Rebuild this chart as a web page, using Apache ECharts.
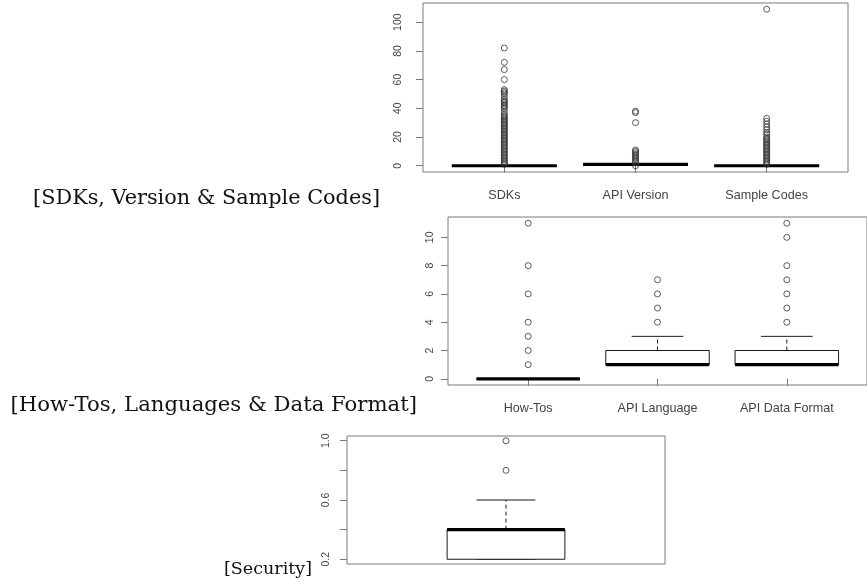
<!DOCTYPE html>
<html><head><meta charset="utf-8">
<script src="https://cdn.jsdelivr.net/npm/echarts@6/dist/echarts.min.js"></script>
<style>html,body{margin:0;padding:0;background:#fff}#c{width:867px;height:586px}</style>
</head><body><div id="c"></div>
<script>
// ---------- Panel 1: SDKs, Version & Sample Codes ----------
const p1Categories = ['SDKs', 'API Version', 'Sample Codes'];
// [min, q1, median, q3, max]
const p1Stats = [
  [0, 0, 0, 0, 0],
  [1, 1, 1, 1, 1],
  [0, 0, 0, 0, 0]
];
const p1Outliers = [
  [1,2,3,4,5,6,7,8,9,10,11,12,13,14,15,16,17,18,19,20,21,22,23,24,25,26,27,28,29,30,31,32,33,34,35,36,38,40,41,42,43,44,45,46,48,50,51,52,53,60,67,72,82],
  [0,2,3,4,5,6,7,8,9,10,11,30,37,38],
  [1,2,3,4,5,6,7,8,9,10,11,12,13,14,15,16,17,18,19,20,22,23,25,27,29,31,33,109]
];
const p1YTicks = [0, 20, 40, 60, 80, 100];

// ---------- Panel 2: How-Tos, Languages & Data Format ----------
const p2Categories = ['How-Tos', 'API Language', 'API Data Format'];
const p2Stats = [
  [0, 0, 0, 0, 0],
  [1, 1, 1, 2, 3],
  [1, 1, 1, 2, 3]
];
const p2Outliers = [
  [1, 2, 3, 4, 6, 8, 11],
  [4, 5, 6, 7],
  [4, 5, 6, 7, 8, 10, 11]
];
const p2YTicks = [0, 2, 4, 6, 8, 10];

// ---------- Panel 3: Security ----------
const p3Stats = [[0.2, 0.2, 0.4, 0.4, 0.6]];
const p3Outliers = [[0.8, 1.0]];
const p3YTicks = [0.2, 0.4, 0.6, 0.8, 1.0];
const p3YLabels = [0.2, 0.6, 1.0];

// ---------- Panel titles ----------
const panelTitles = ['[SDKs, Version & Sample Codes]', '[How-Tos, Languages & Data Format]', '[Security]'];

// ---------- helpers ----------
const FRAME = '#7a7a7a';
const INK = '#1a1a1a';
const LABEL = '#444';

function boxData(stats) {
  return stats.map((s, i) => [i + 1].concat(s));
}
function outlierData(outs) {
  const d = [];
  outs.forEach((arr, i) => arr.forEach(v => d.push([i + 1, v])));
  return d;
}
function boxRender(halfW) {
  return function (params, api) {
    const x = api.value(0);
    const mn = api.value(1), q1 = api.value(2), md = api.value(3), q3 = api.value(4), mx = api.value(5);
    const tl = api.coord([x - halfW, q3]);
    const br = api.coord([x + halfW, q1]);
    const c3 = api.coord([x, q3]), cx = api.coord([x, mx]);
    const c1 = api.coord([x, q1]), cn = api.coord([x, mn]);
    const capL = api.coord([x - halfW / 2, mx]), capR = api.coord([x + halfW / 2, mx]);
    const capL2 = api.coord([x - halfW / 2, mn]), capR2 = api.coord([x + halfW / 2, mn]);
    const mL = api.coord([x - halfW, md]), mR = api.coord([x + halfW, md]);
    const thin = { stroke: INK, lineWidth: 1, fill: null };
    const dash = { stroke: INK, lineWidth: 1, lineDash: [4, 3], fill: null };
    return {
      type: 'group',
      children: [
        { type: 'line', shape: { x1: c3[0], y1: c3[1], x2: cx[0], y2: cx[1] }, style: dash },
        { type: 'line', shape: { x1: c1[0], y1: c1[1], x2: cn[0], y2: cn[1] }, style: dash },
        { type: 'line', shape: { x1: capL[0], y1: capL[1], x2: capR[0], y2: capR[1] }, style: thin },
        { type: 'line', shape: { x1: capL2[0], y1: capL2[1], x2: capR2[0], y2: capR2[1] }, style: thin },
        { type: 'rect', shape: { x: tl[0], y: tl[1], width: br[0] - tl[0], height: br[1] - tl[1] },
          style: { fill: '#fff', stroke: INK, lineWidth: 1 } },
        { type: 'line', shape: { x1: mL[0], y1: mL[1], x2: mR[0], y2: mR[1] },
          style: { stroke: '#000', lineWidth: 3.2, fill: null } }
      ]
    };
  };
}
function yAxis(idx, min, max, ticks, labels, margin, fmt) {
  return {
    type: 'value', gridIndex: idx, min: min, max: max,
    axisLine: { show: false },
    splitLine: { show: false },
    axisTick: { show: true, length: 7, customValues: ticks, lineStyle: { color: FRAME, width: 1 } },
    axisLabel: {
      show: true, customValues: labels, rotate: 90, margin: margin,
      formatter: fmt || (v => String(v)),
      color: LABEL, fontSize: 10.5, fontFamily: 'Liberation Sans'
    }
  };
}
function xAxis(idx, min, max, cats) {
  const ax = {
    type: 'value', gridIndex: idx, min: min, max: max,
    axisLine: { show: false }, splitLine: { show: false },
    axisTick: { show: false }, axisLabel: { show: false }
  };
  if (cats) {
    const vals = cats.map((c, i) => i + 1);
    ax.axisTick = { show: true, length: 7, customValues: vals, lineStyle: { color: FRAME, width: 1 } };
    ax.axisLabel = {
      show: true, customValues: vals, margin: 17,
      formatter: v => cats[Math.round(v) - 1] || '',
      color: LABEL, fontSize: 12.6, fontFamily: 'Liberation Sans'
    };
  }
  return ax;
}
const scatterStyle = {
  symbol: 'circle', symbolSize: 6,
  itemStyle: { color: 'rgba(0,0,0,0)', borderColor: '#333', borderWidth: 1 }
};
function title(text, xr, yc, size) {
  return {
    type: 'text', x: xr, y: yc,
    style: { text: text, fontFamily: 'DejaVu Serif', fontSize: size, fill: '#111', align: 'right', verticalAlign: 'middle' }
  };
}

const chart = echarts.init(document.getElementById('c'), null, { renderer: 'canvas' });
chart.setOption({
  backgroundColor: '#fff',
  animation: false,
  grid: [
    { left: 423, top: 3, width: 425, height: 169, show: true, borderColor: FRAME, borderWidth: 1, backgroundColor: 'transparent' },
    { left: 448, top: 217, width: 424, height: 168, show: true, borderColor: FRAME, borderWidth: 1, backgroundColor: 'transparent' },
    { left: 347, top: 436, width: 318, height: 128, show: true, borderColor: FRAME, borderWidth: 1, backgroundColor: 'transparent' }
  ],
  xAxis: [
    xAxis(0, 0.38, 3.62, p1Categories),
    xAxis(1, 0.38, 3.62, p2Categories),
    xAxis(2, 0.46, 1.54, null)
  ],
  yAxis: [
    yAxis(0, -4.36, 113.36, p1YTicks, p1YTicks, 19),
    yAxis(1, -0.44, 11.44, p2YTicks, p2YTicks, 12),
    yAxis(2, 0.168, 1.032, p3YTicks, p3YLabels, 15, v => v.toFixed(1))
  ],
  series: [
    { type: 'custom', xAxisIndex: 0, yAxisIndex: 0, renderItem: boxRender(0.4), data: boxData(p1Stats), encode: { x: 0, y: [1, 2, 3, 4, 5] }, z: 2 },
    Object.assign({ type: 'scatter', xAxisIndex: 0, yAxisIndex: 0, data: outlierData(p1Outliers), z: 3 }, scatterStyle),
    { type: 'custom', xAxisIndex: 1, yAxisIndex: 1, renderItem: boxRender(0.4), data: boxData(p2Stats), encode: { x: 0, y: [1, 2, 3, 4, 5] }, z: 2 },
    Object.assign({ type: 'scatter', xAxisIndex: 1, yAxisIndex: 1, data: outlierData(p2Outliers), z: 3 }, scatterStyle),
    { type: 'custom', xAxisIndex: 2, yAxisIndex: 2, renderItem: boxRender(0.2), data: boxData(p3Stats), encode: { x: 0, y: [1, 2, 3, 4, 5] }, z: 2 },
    Object.assign({ type: 'scatter', xAxisIndex: 2, yAxisIndex: 2, data: outlierData(p3Outliers), z: 3 }, scatterStyle)
  ],
  graphic: [
    title(panelTitles[0], 380, 199, 20.8),
    title(panelTitles[1], 417, 405, 21.2),
    title(panelTitles[2], 312, 569, 17.5)
  ]
});
</script>
</body></html>
